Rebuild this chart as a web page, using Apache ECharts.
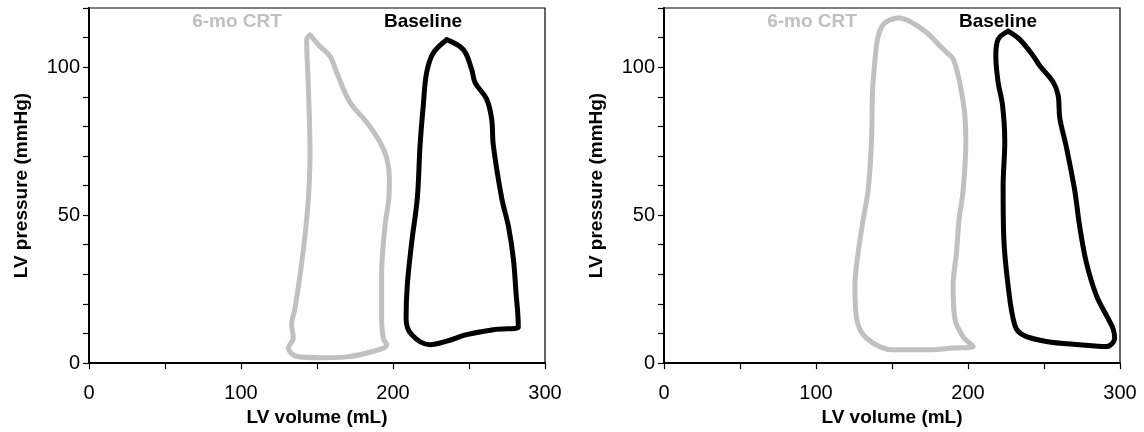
<!DOCTYPE html>
<html>
<head>
<meta charset="utf-8">
<script src="https://cdn.jsdelivr.net/npm/echarts@6/dist/echarts.min.js"></script>
<style>html,body{margin:0;padding:0;background:#fff}#c{width:1144px;height:432px}</style>
</head>
<body>
<div id="c"></div>
<script>
// Panel A (left)
const leftCRT = [[145.4,110.9],[152,107],[158.6,103.7],[163,98.1],[171.7,88.1],[182.7,81.4],[191.4,74.7],[195.9,69.2],[197.6,62.5],[197.3,56],[194.7,46.3],[192.5,29.6],[192.5,15.1],[193.6,8.5],[195.9,6.2],[187,4],[169.5,2.1],[152,1.8],[136.6,2.3],[131.1,5.1],[134.4,8.5],[133.3,12.9],[135.5,18.5],[138.8,29.6],[142.1,43],[144.5,57],[145.4,71.4],[144.3,93.6],[143.2,109.3],[145.4,110.9]];
const leftBaseline = [[235.3,109.3],[246.3,105.9],[251.8,99.2],[254,94.8],[261.6,89.2],[264.9,82.5],[266,73.6],[271.5,55.8],[275.9,46.3],[279.2,35.2],[280.9,24],[282.4,12.9],[282.4,12],[266,11.3],[248.5,9.6],[235.3,7.4],[224.3,6.2],[212.3,9.6],[208.6,15.1],[209.4,26.3],[212.3,40.8],[216,55.8],[217.8,73.6],[219.9,87],[222.1,98.1],[226.5,104.8],[235.3,109.3]];
// Panel B (right)
const rightCRT = [[154,116.7],[161.7,115.5],[172.7,111.7],[181.5,107.2],[185.9,105],[190.2,102.8],[193.5,97.2],[195.7,91.7],[197.9,83.9],[198.6,75],[196.8,58.4],[194.1,48.4],[192.4,37.2],[190.2,26.1],[191.3,15.1],[196.8,8.9],[203.4,5.6],[190.2,5.1],[174.9,4.5],[150.8,4.5],[133.3,8.4],[126.7,15.1],[125.6,26.1],[127.7,37.2],[131,48.4],[134.3,58.4],[136.5,75],[137.2,91.7],[138.7,101.7],[140.9,110.5],[145.3,115],[154,116.7]];
const rightBaseline = [[226.4,112.2],[234,109.4],[242.8,103.9],[247.2,100.5],[256,95],[259.3,90.5],[260.4,82.8],[264.8,72.8],[270.2,58.4],[273.5,46.1],[277.9,33.9],[284.5,22.8],[292.1,15.1],[295.4,11.7],[296.5,8.4],[291.1,5.6],[273.5,6.2],[251.6,7.3],[236.2,9.5],[230.8,12.8],[226.4,26.1],[223.5,42.8],[223.1,59.5],[224.2,75],[222.7,87.2],[219.8,95],[218.3,103.9],[219.8,109.4],[226.4,112.2]];
const xLabels = [0, 100, 200, 300];
const yLabels = [0, 50, 100];
const seriesNames = ['6-mo CRT', 'Baseline'];
const xTitle = 'LV volume (mL)';
const yTitle = 'LV pressure (mmHg)';

const FONT = '"Liberation Sans", Arial, sans-serif';
function xAxis(i){
  return {
    type:'value', gridIndex:i, min:0, max:300, interval:50,
    name:xTitle, nameLocation:'middle', nameGap:44,
    nameTextStyle:{fontFamily:FONT,fontSize:19,fontWeight:'bold',color:'#000'},
    axisLine:{show:true,lineStyle:{color:'#000',width:2}},
    axisTick:{show:true,inside:false,length:6,lineStyle:{color:'#000',width:1.2}},
    axisLabel:{margin:20,fontFamily:FONT,fontSize:20,color:'#000',
      formatter:v=>xLabels.indexOf(v)>=0?String(v):''},
    splitLine:{show:false}
  };
}
function yAxis(i){
  return {
    type:'value', gridIndex:i, min:0, max:120, interval:10,
    name:yTitle, nameLocation:'middle', nameGap:58, nameRotate:90,
    nameTextStyle:{fontFamily:FONT,fontSize:19,fontWeight:'bold',color:'#000'},
    axisLine:{show:true,lineStyle:{color:'#000',width:2}},
    axisTick:{show:true,inside:false,length:6,lineStyle:{color:'#000',width:1.2}},
    axisLabel:{margin:9,fontFamily:FONT,fontSize:20,color:'#000',
      formatter:v=>yLabels.indexOf(v)>=0?String(v):''},
    splitLine:{show:false}
  };
}
function loop(data, color, i, name){
  return {type:'line', name:name, xAxisIndex:i, yAxisIndex:i, data:data, smooth:0.35,
    showSymbol:false, symbol:'none', lineStyle:{color:color,width:5,cap:'round',join:'round'}, z:3};
}
function txt(x,y,t,color){
  return {type:'text', left:x, top:y, style:{text:t, fill:color, font:'bold 19px '+FONT, textAlign:'center', textVerticalAlign:'middle'}};
}
const chart = echarts.init(document.getElementById('c'), null, {renderer:'canvas'});
chart.setOption({
  animation:false,
  backgroundColor:'#fff',
  grid:[
    {left:89, width:456, top:8, height:359, show:true, borderColor:'#000', borderWidth:1.2, backgroundColor:'transparent'},
    {left:664, width:456, top:8, height:360, show:true, borderColor:'#000', borderWidth:1.2, backgroundColor:'transparent'}
  ],
  xAxis:[xAxis(0), xAxis(1)],
  yAxis:[yAxis(0), yAxis(1)],
  graphic:[
    {type:'text', x:237, y:22, style:{text:seriesNames[0], fill:'#c0c0c0', font:'bold 19px '+FONT, align:'center', verticalAlign:'middle'}},
    {type:'text', x:423, y:22, style:{text:seriesNames[1], fill:'#000', font:'bold 19px '+FONT, align:'center', verticalAlign:'middle'}},
    {type:'text', x:812, y:22, style:{text:seriesNames[0], fill:'#c0c0c0', font:'bold 19px '+FONT, align:'center', verticalAlign:'middle'}},
    {type:'text', x:998, y:22, style:{text:seriesNames[1], fill:'#000', font:'bold 19px '+FONT, align:'center', verticalAlign:'middle'}}
  ],
  series:[
    loop(leftCRT,'#c0c0c0',0,seriesNames[0]),
    loop(leftBaseline,'#000',0,seriesNames[1]),
    loop(rightCRT,'#c0c0c0',1,seriesNames[0]),
    loop(rightBaseline,'#000',1,seriesNames[1])
  ]
});
</script>
</body>
</html>
